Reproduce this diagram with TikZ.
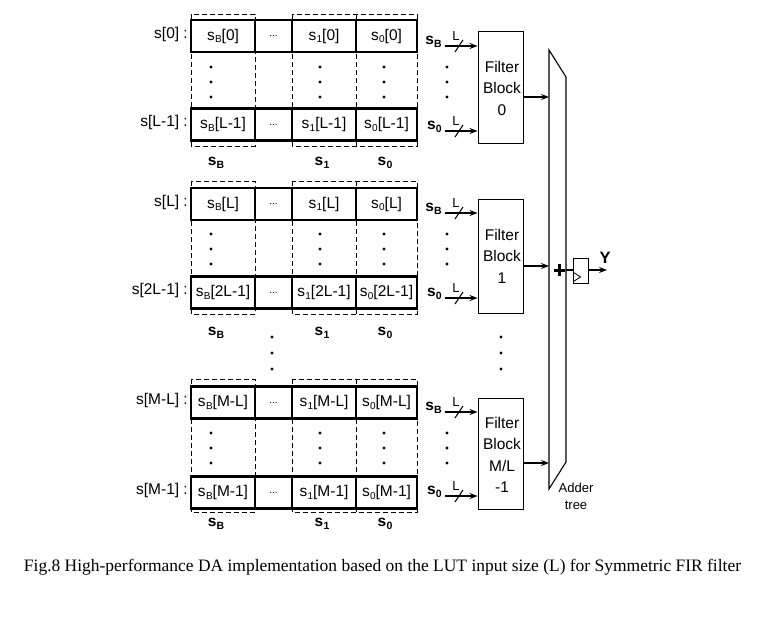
\documentclass[tikz,border=0pt]{standalone}
\usepackage{fontspec}
\setmainfont{Liberation Sans}
\newfontfamily\capfont{Liberation Serif}
\usetikzlibrary{arrows.meta,fit}
\newcommand\sx[1]{s\kern0.3pt\raisebox{-0.35ex}{\fontsize{10}{10}\selectfont #1}}
\newcommand\bsx[1]{\textbf{s\kern0.3pt\raisebox{-0.4ex}{\fontsize{10.5}{10.5}\selectfont #1}}}
\begin{document}
\begin{tikzpicture}[x=1pt,y=-1pt,
  cell/.style={draw, line width=2.2pt, minimum height=32pt, inner sep=0pt, font=\fontsize{15.5}{17}\selectfont},
  dashbox/.style={draw, dashed, dash pattern=on 5pt off 3pt, line width=0.8pt},
  txt/.style={font=\fontsize{15.5}{17}\selectfont, inner sep=0pt},
  smalltxt/.style={font=\fontsize{13}{14}\selectfont, inner sep=0pt},
  arr/.style={-{Stealth[length=8pt,width=6pt]}, line width=1.1pt},
  dotmark/.style={circle, fill, inner sep=0pt, minimum size=3.2pt},
  fblock/.style={draw, line width=0.9pt, inner sep=0pt},
  ftext/.style={font=\fontsize{15.5}{21.5}\selectfont, align=center, inner sep=0pt}]
\useasboundingbox (0,0) rectangle (767,623);

\foreach \g/\dt/\ya/\yb/\dbot/\ly/\dy/\ta/\tb/\fy/\fb/\sa/\sb/\ty in
  {1/14/36/124.5/146/163/82/0/L-1/31/143/46/131/97,
   2/181/204/292.5/314/333/249/L/2L-1/199/313/213/298/266,
   3/379/402.5/492.5/512/524/448/M-L/M-1/398/509/412/496/463}{
  % dashed column frames
  \draw[dashbox] (191,\dt) rectangle (255,\dbot);
  \draw[dashbox] (292,\dt) rectangle (417,\dbot);
  \draw[dashbox] (356,\dt) -- (356,\dbot);
  % rows
  \foreach \r/\yy/\tt in {a/\ya/\ta, b/\yb/\tb}{
    \node[cell, minimum width=64pt] (g\g\r B) at (223,\yy) {\sx{B}[\tt]};
    \node[cell, minimum width=37pt] (g\g\r d) at (273.5,\yy) {\fontsize{10}{10}\selectfont ...};
    \node[cell, minimum width=64pt] (g\g\r 1) at (324,\yy) {\sx{1}[\tt]};
    \node[cell, minimum width=61pt] (g\g\r 0) at (386.5,\yy) {\sx{0}[\tt]};
    \node[txt, anchor=east] (g\g\r lab) at (188,\yy-2) {s[\tt] :};
  }
  % vertical dots
  \foreach \xx in {211,320,384,447}{
    \node[dotmark] at (\xx,\dy-15) {};
    \node[dotmark] at (\xx,\dy) {};
    \node[dotmark] at (\xx,\dy+15) {};
  }
  % column labels
  \node[txt] (g\g cB) at (216,\ly) {\bsx{B}};
  \node[txt] (g\g c1) at (322,\ly) {\bsx{1}};
  \node[txt] (g\g c0) at (385,\ly) {\bsx{0}};
  % filter block
  \coordinate (f\g nw) at (478,\fy);
  \coordinate (f\g se) at (523,\fb);
  \node[fblock, fit=(f\g nw)(f\g se)] (f\g) {};
  % inputs
  \node[txt, anchor=east] (g\g iB) at (442,\sa-4) {\bsx{B}};
  \node[txt, anchor=east] (g\g i0) at (442,\sb-4) {\bsx{0}};
  \draw[arr, shorten <=2.5pt] (g\g iB.east |- 0,\sa) -- (f\g.west |- 0,\sa);
  \draw[arr, shorten <=2.5pt] (g\g i0.east |- 0,\sb) -- (f\g.west |- 0,\sb);
  \foreach \yy in {\sa,\sb}{
    \draw[line width=1pt] (455,\yy+6) -- (463,\yy-6);
    \node[smalltxt] at (456,\yy-10) {L};
  }
  % output to adder
  \coordinate (ad\g) at (549,\ty);
  \draw[arr] (f\g.east |- ad\g) -- (ad\g);
}

% filter block texts
\node[ftext] (ft1) at (502,88) {Filter\\Block\\0};
\node[ftext] (ft2) at (502,256) {Filter\\Block\\1};
\node[ftext] (ft3) at (502,455) {Filter\\Block\\M/L\\-1};

% dots between groups
\foreach \xx in {272,501}{
  \node[dotmark] at (\xx,337) {};
  \node[dotmark] at (\xx,353) {};
  \node[dotmark] at (\xx,369) {};
}

% adder tree
\draw[line width=1.1pt] (549,50) coordinate (adTL) -- (566,77) coordinate (adTR)
  -- (566,462) coordinate (adBR) -- (549,489) coordinate (adBL) -- cycle;
\node[align=center, inner sep=0pt, font=\fontsize{13}{17}\selectfont] (addlab) at (576,496) {Adder\\tree};

% plus
\draw[line width=3pt] (554,270) -- (565,270);
\draw[line width=3pt] (559,264) -- (559,276);

% register
\node[fblock, minimum width=15pt, minimum height=25pt] (reg) at (580.5,270.5) {};
\draw[line width=0.8pt] ([shift={(1,-11)}]reg.south west) -- ([shift={(8,-6.5)}]reg.south west) -- ([shift={(1,-2)}]reg.south west);
\coordinate (sumout) at (566,270);
\draw[line width=1.1pt] (sumout) -- (reg.west |- sumout);
\coordinate (yend) at (607,270);
\draw[arr] (reg.east |- yend) -- (yend);
\node[txt, font=\fontsize{16.5}{17}\selectfont\bfseries] (ylab) at (605,258) {Y};

% caption
\node[inner sep=0pt, font=\capfont\fontsize{15}{17}\selectfont] (cap) at (382.5,567)
  {\resizebox{717pt}{!}{Fig.8 High-performance DA implementation based on the LUT input size (L) for Symmetric FIR filter}};
\end{tikzpicture}
\end{document}
